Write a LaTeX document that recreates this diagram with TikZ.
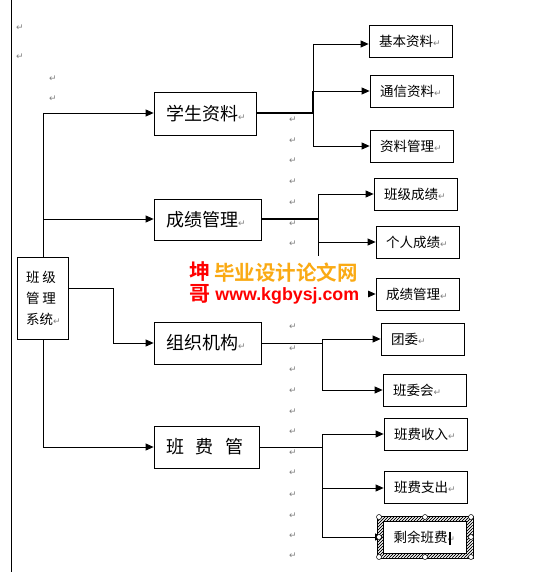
\documentclass[tikz,border=0pt]{standalone}
\usepackage{fontspec}
\newfontfamily\cjk{Noto Sans CJK SC}[BoldFont={Noto Sans CJK SC Bold}]
\newfontfamily\sym{DejaVu Sans}
\newfontfamily\wmfont{Liberation Sans}
\usetikzlibrary{arrows.meta,patterns}
\newcommand{\retmark}{{\sym\fontsize{9}{9}\selectfont\textcolor{gray}{↵}}}
\tikzset{
 bigbox/.style={draw, fill=white, line width=0.8pt, font=\cjk\fontsize{18}{18}\selectfont, align=left, inner xsep=12pt, inner ysep=0pt},
 subbox/.style={draw, fill=white, line width=0.8pt, font=\cjk\fontsize{13.5}{13.5}\selectfont, align=left, inner xsep=10pt, text width=63pt, minimum height=32pt, inner ysep=0pt},
 arr/.style={-{Triangle[length=8pt,width=7pt]}, line width=0.8pt},
 thk/.style={line width=2.4pt},
 ret/.style={font=\sym\fontsize{9}{9}\selectfont, text=gray, inner sep=0pt},
 handle/.style={circle, draw, fill=white, inner sep=0pt, minimum size=5pt, line width=0.5pt}
}
\begin{document}
\begin{tikzpicture}[x=1pt,y=-1pt,line width=0.8pt]
\useasboundingbox[fill=white] (0,0) rectangle (555,572);
% page margin line
\coordinate (pm1) at (11,0);
\coordinate (pm2) at (11,572);
\draw (pm1) -- (pm2);
% paragraph marks
\foreach \px/\py [count=\i] in {20/28,20/57,53/79,53/99} \node[ret] (rl\i) at (\px,\py) {↵};
\foreach \py [count=\i] in {120,141,161,182,203,224,244,327,349,370,391,412,432,453,473,495,516,536,556}
  \node[ret] (rc\i) at (293,\py) {↵};
% trunk
\coordinate (t1) at (43,113);
\coordinate (t2) at (43,219);
\coordinate (t4) at (43,447);
\draw (t1) -- (t4);
% main box
\node[draw, fill=white, font=\cjk\fontsize{13.5}{21}\selectfont, align=left, inner xsep=9pt, text width=33pt, minimum height=82pt] (main) at (42.5,298)
  {班\hspace{3pt}级\\管\hspace{3pt}理\\系统\retmark};
% level-1 boxes
\node[bigbox, text width=78pt, minimum height=43pt] (xs) at (205,113.5) {学生资料\retmark};
\node[bigbox, text width=83pt, minimum height=41pt] (cj) at (207.5,219.5) {成绩管理\retmark};
\node[bigbox, text width=83pt, minimum height=42pt] (zz) at (207.5,343) {组织机构\retmark};
\node[bigbox, text width=81pt, minimum height=42pt] (bf) at (206.5,447) {班\hspace{12pt}费\hspace{12pt}管};
% arrows from trunk
\draw[arr] (t1) -- (xs.west |- t1);
\draw[arr] (t2) -- (cj.west |- t2);
\draw[arr] (t4) -- (bf.west |- t4);
\coordinate (m1) at (113,288);
\coordinate (m2) at (113,343);
\draw[arr] (main.east |- m1) -- (m1) -- (m2) -- (zz.west |- m2);
% level-2 boxes
\node[subbox] (a1) at (410.5,41) {基本资料\retmark};
\node[subbox] (a2) at (411.5,91) {通信资料\retmark};
\node[subbox] (a3) at (411.5,146) {资料管理\retmark};
\node[subbox] (b1) at (415.5,194) {班级成绩\retmark};
\node[subbox] (b2) at (417.5,242) {个人成绩\retmark};
\node[subbox] (b3) at (417.5,294) {成绩管理\retmark};
\node[subbox] (c1) at (422.5,339) {团委\retmark};
\node[subbox] (c2) at (424.5,390) {班委会\retmark};
\node[subbox] (d1) at (425.5,434) {班费收入\retmark};
\node[subbox] (d2) at (425.5,487.5) {班费支出\retmark};
% group 1
\coordinate (ja) at (313,113);
\coordinate (ja1) at (313,44);
\coordinate (ja2) at (313,91);
\coordinate (ja3) at (313,146);
\draw (ja1) -- (ja3);
\draw[thk] (xs.east |- ja) -- (ja) -- (ja2);
\draw[arr] (ja1) -- (a1.west |- ja1);
\draw[arr] (ja2) -- (a2.west |- ja2);
\draw[arr] (ja3) -- (a3.west |- ja3);
% group 2
\coordinate (jb) at (318,219);
\coordinate (jb1) at (318,194);
\coordinate (jb2) at (318,242);
\coordinate (jb3) at (318,294);
\draw (jb1) -- (jb3);
\draw[thk] (cj.east |- jb) -- (jb);
\draw[arr] (jb1) -- (b1.west |- jb1);
\draw[arr] (jb2) -- (b2.west |- jb2);
\draw[arr] (jb3) -- (b3.west |- jb3);
% group 3
\coordinate (jc) at (322,343);
\coordinate (jc1) at (322,339);
\coordinate (jc2) at (322,390);
\draw (zz.east |- jc) -- (jc) -- (jc1);
\draw[arr] (jc1) -- (c1.west |- jc1);
\draw[arr] (jc1) -- (jc2) -- (c2.west |- jc2);
% group 4
\coordinate (jd) at (322,447);
\coordinate (jd1) at (322,434);
\coordinate (jd2) at (322,488);
\coordinate (jd3) at (322,537);
\draw (bf.east |- jd) -- (jd);
\draw (jd1) -- (jd3);
\draw[arr] (jd1) -- (d1.west |- jd1);
\draw[arr] (jd2) -- (d2.west |- jd2);
% selected box with hatched frame
\fill[pattern=north east lines, even odd rule] (377,516) rectangle (473,558) (383,521) rectangle (467,553);
\fill[pattern=north east lines, even odd rule] (378,517) rectangle (472,557) (383,521) rectangle (467,553);
\draw[line width=0.4pt] (377,516) rectangle (473,558);
\node[subbox] (d3) at (425,537) {剩余班费\retmark};
\draw[arr] (jd3) -- (d3.west |- jd3);
\coordinate (cur1) at (450,532);
\coordinate (cur2) at (450,545);
\draw[line width=1.6pt] (cur1) -- (cur2);
\foreach \hx/\hy [count=\i] in {379/517,425/517,471/517,379/537,471/537,379/557,425/557,471/557}
  \node[handle] (h\i) at (\hx,\hy) {};
% watermark
\node[fill=white, minimum width=183pt, minimum height=61pt, inner sep=0pt] (wm) at (276.5,286.5) {};
\node[text=red, font=\cjk\bfseries\fontsize{21}{21}\selectfont, inner sep=0pt] (wk) at (200,272) {坤};
\node[text=red, font=\cjk\bfseries\fontsize{21}{21}\selectfont, inner sep=0pt] (wg) at (200,294) {哥};
\node[text={rgb,255:red,250;green,170;blue,20}, font=\cjk\bfseries\fontsize{20.5}{20.5}\selectfont, inner sep=0pt, anchor=west] (wt) at (214,273) {毕业设计论文网};
\node[text=red, font=\wmfont\bfseries\fontsize{17.8}{17.8}\selectfont, inner sep=0pt, anchor=west] (wu) at (215,296) {www.kgbysj.com};
\end{tikzpicture}
\end{document}
